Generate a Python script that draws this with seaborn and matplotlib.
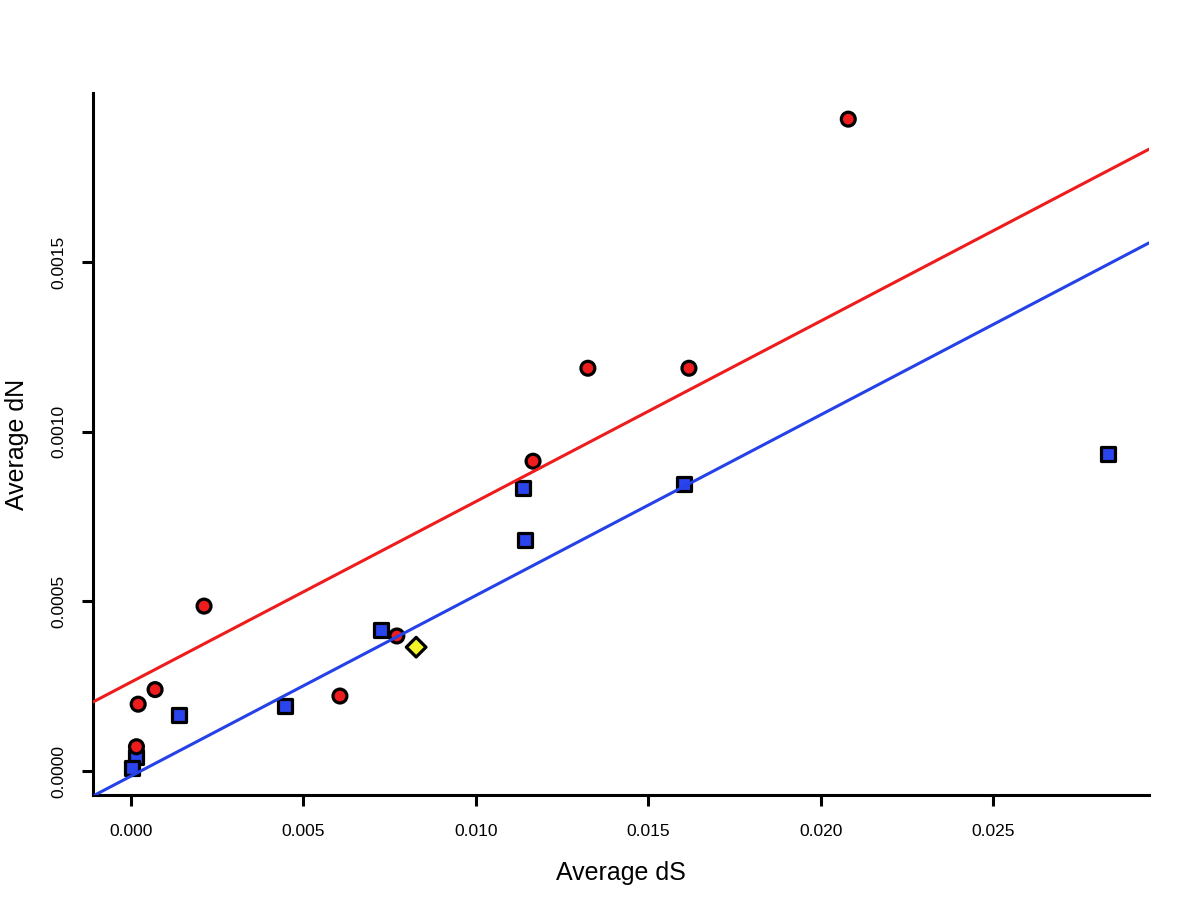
import pandas as pd
import matplotlib.pyplot as plt
import seaborn as sns
from matplotlib.ticker import FixedLocator, FormatStrFormatter

# values
red_ds = [0.02080, 0.01618, 0.01325, 0.01166, 0.00212, 0.00070, 0.00021, 0.00016, 0.00771, 0.00606]
red_dn = [0.001921, 0.001187, 0.001187, 0.000913, 0.000486, 0.000240, 0.000197, 0.0000716, 0.000398, 0.000221]
blue_ds = [0.02834, 0.01604, 0.01137, 0.01143, 0.00725, 0.00447, 0.00140, 0.000145, 0.00003]
blue_dn = [0.000934, 0.000846, 0.000834, 0.000681, 0.000415, 0.000192, 0.000165, 0.0000412, 0.0000088]
yellow_ds = [0.00827]
yellow_dn = [0.000365]

# fitted lines (intercept, slope)
red_fit = (0.000262, 0.0532)
blue_fit = (-0.000015, 0.05323)

x_ticks = [0.000, 0.005, 0.010, 0.015, 0.020, 0.025]
y_ticks = [0.0000, 0.0005, 0.0010, 0.0015]

df = pd.concat([
    pd.DataFrame({'dS': blue_ds, 'dN': blue_dn, 'group': 'blue'}),
    pd.DataFrame({'dS': red_ds, 'dN': red_dn, 'group': 'red'}),
    pd.DataFrame({'dS': yellow_ds, 'dN': yellow_dn, 'group': 'yellow'}),
], ignore_index=True)

sns.set_style('ticks')
plt.rcParams['font.family'] = ['Liberation Sans', 'DejaVu Sans']
plt.rcParams['text.color'] = 'black'
plt.rcParams['axes.labelcolor'] = 'black'
plt.rcParams['xtick.color'] = 'black'
plt.rcParams['ytick.color'] = 'black'

fig = plt.figure(figsize=(12, 9.11), dpi=100)
ax = fig.add_axes([0.0775, 0.1273, 0.88, 0.7706])

palette = {'red': '#ee1c1c', 'blue': '#2a44ee', 'yellow': '#f4f42a'}
markers = {'red': 'o', 'blue': 's', 'yellow': 'D'}
sns.scatterplot(data=df, x='dS', y='dN', hue='group', style='group',
                palette=palette, markers=markers, s=100,
                edgecolor='black', linewidth=2.3, legend=False, ax=ax, zorder=2)

ax.axline((0, red_fit[0]), slope=red_fit[1], color='#ee1c1c', lw=2.2, zorder=3)
ax.axline((0, blue_fit[0]), slope=blue_fit[1], color='#2541e8', lw=2.2, zorder=3)

ax.set_xlim(-0.0011, 0.02952)
ax.set_ylim(-0.0000707, 0.001998)
ax.xaxis.set_major_locator(FixedLocator(x_ticks))
ax.yaxis.set_major_locator(FixedLocator(y_ticks))
ax.xaxis.set_major_formatter(FormatStrFormatter('%.3f'))
ax.yaxis.set_major_formatter(FormatStrFormatter('%.4f'))
ax.tick_params(axis='both', length=8, width=2.2, labelsize=12.5, direction='out')
ax.tick_params(axis='x', pad=13)
ax.tick_params(axis='y', pad=11)
for lab in ax.get_yticklabels():
    lab.set_rotation(90)
    lab.set_va('center')

for side in ['left', 'bottom']:
    ax.spines[side].set_linewidth(2.2)
    ax.spines[side].set_color('black')
sns.despine(ax=ax)

ax.set_xlabel('Average dS', fontsize=18, labelpad=16)
ax.set_ylabel('Average dN', fontsize=18, labelpad=16)

fig.savefig('out.png', dpi=100)
